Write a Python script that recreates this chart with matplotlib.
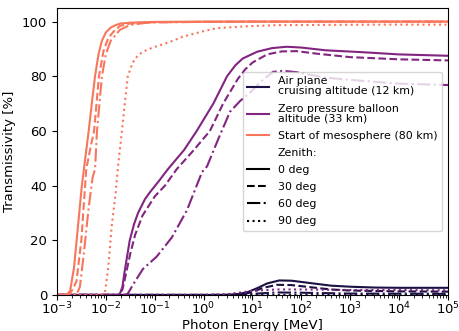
import numpy as np
import matplotlib
matplotlib.use("Agg")
import matplotlib.pyplot as plt
from matplotlib.lines import Line2D

# altitude labels and colours
altitudes = ["Air plane\ncruising altitude (12 km)",
             "Zero pressure balloon\naltitude (33 km)",
             "Start of mesosphere (80 km)"]
alt_colors = ["#1c1044", "#812581", "#f8765c"]

zeniths = ["0 deg", "30 deg", "60 deg", "90 deg"]
zen_styles = ["-", "--", "-.", ":"]

# --- 12 km (log10 energy in MeV, transmissivity in %) ---
e12_0 = [-3, 0.4, 0.7, 0.9, 1.1, 1.3, 1.55, 1.8, 2.2, 2.6, 3.0, 3.5, 4, 5]
t12_0 = [0, 0, 0.3, 1, 2.5, 4.2, 5.3, 5.2, 4.3, 3.4, 3.0, 2.7, 2.6, 2.6]
e12_30 = [-3, 0.5, 0.8, 1.0, 1.2, 1.5, 1.8, 2.2, 2.6, 3, 4, 5]
t12_30 = [0, 0, 0.3, 1, 2.5, 3.7, 3.6, 2.8, 2.0, 1.6, 1.3, 1.2]
e12_60 = [-3, 0.8, 1.1, 1.5, 2, 3, 5]
t12_60 = [0, 0, 0.5, 0.9, 0.8, 0.5, 0.4]
e12_90 = [-3, 5]
t12_90 = [0, 0]

# --- 33 km ---
e33_0 = [-3, -1.75, -1.71, -1.66, -1.62, -1.51, -1.42, -1.34, -1.2, -1.1, -0.9, -0.73,
         -0.4, -0.14, 0.2, 0.48, 0.65, 0.8, 1.1, 1.4, 1.7, 2.0, 2.5, 3.26, 4, 5]
t33_0 = [0, 0, 0.5, 3, 8, 20, 26, 30, 35, 37.5, 42, 46,
         53, 60, 70, 80, 84, 86.5, 89, 90.3, 90.8, 90.5, 89.5, 88.8, 88, 87.5]
e33_30 = [-3, -1.72, -1.66, -1.62, -1.5, -1.4, -1.25, -1.0, -0.79, -0.55, -0.2, 0.13,
          0.4, 0.7, 0.85, 1.0, 1.3, 1.6, 1.9, 2.3, 3.0, 4, 5]
t33_30 = [0, 0, 2, 5, 15, 22, 29, 36, 40, 46, 53, 60,
          70, 79, 82.5, 85, 88, 89.1, 89.2, 88.3, 87, 86.2, 85.8]
e33_60 = [-3, -1.6, -1.55, -1.4, -1.24, -0.96, -0.65, -0.34, -0.03, 0.07, 0.3,
          0.54, 0.75, 0.95, 1.2, 1.42, 1.62, 1.9, 2.5, 3.26, 4, 5]
t33_60 = [0, 0, 0.5, 5, 9.5, 14, 21, 31, 45, 47, 57,
          67, 71, 74, 78.5, 81.6, 82, 81.5, 79.5, 78.3, 77.3, 76.8]
e33_90 = [-3, 0.0, 0.5, 0.8, 1.0, 1.5, 2, 3, 4, 5]
t33_90 = [0, 0, 0.3, 1, 1.5, 2, 2, 1.8, 1.8, 1.7]

# --- 80 km ---
e80_0 = [-3, -2.8, -2.73, -2.65, -2.57, -2.49, -2.42, -2.35, -2.28, -2.22, -2.15,
         -2.08, -2.0, -1.9, -1.8, -1.7, -1.5, -1.2, -1, 0, 1, 2, 3, 4, 5]
t80_0 = [0, 0, 1.5, 10, 25, 40, 50, 60, 71, 80, 88,
         93, 96, 97.8, 98.7, 99.3, 99.6, 99.8, 99.9, 100, 100, 100, 100, 100, 100]
e80_30 = [-3, -2.75, -2.68, -2.6, -2.5, -2.4, -2.3, -2.24, -2.14, -2.05, -1.95,
          -1.81, -1.7, -1.5, -1.2, -1, 0, 1, 2, 3, 4, 5]
t80_30 = [0, 0, 2, 5, 20, 46, 55, 60, 80, 89, 94,
          97, 98.5, 99.3, 99.6, 99.8, 99.9, 100, 100, 100, 100, 100]
e80_60 = [-3, -2.6, -2.53, -2.45, -2.35, -2.27, -2.22, -2.18, -2.08, -2.0, -1.9,
          -1.71, -1.5, -1.2, -1, 0, 1, 2, 3, 4, 5]
t80_60 = [0, 0, 3, 15, 32, 43, 46, 60, 80, 88, 93,
          97, 98.8, 99.5, 99.7, 99.9, 100, 100, 100, 100, 100]
e80_90 = [-3, -2.1, -2.02, -1.95, -1.88, -1.8, -1.75, -1.67, -1.6, -1.55, -1.45,
          -1.35, -1.24, -1.04, -0.7, -0.42, 0, 0.27, 0.89, 1.5, 2.5, 3.5, 5]
t80_90 = [0, 0, 0.5, 10, 25, 37, 47, 60, 72, 80, 85,
          87.5, 89, 90.5, 92.5, 94.5, 96.5, 97.6, 98.3, 98.7, 98.8, 98.9, 98.9]

curves = [
    [(e12_0, t12_0), (e12_30, t12_30), (e12_60, t12_60), (e12_90, t12_90)],
    [(e33_0, t33_0), (e33_30, t33_30), (e33_60, t33_60), (e33_90, t33_90)],
    [(e80_0, t80_0), (e80_30, t80_30), (e80_60, t80_60), (e80_90, t80_90)],
]

fig = plt.figure(figsize=(4.59, 3.31), dpi=100)
ax = fig.add_axes([0.124, 0.109, 0.852, 0.867])

for i, alt_curves in enumerate(curves):
    for j, (le, t) in enumerate(alt_curves):
        ax.plot(10.0 ** np.array(le), t, color=alt_colors[i],
                linestyle=zen_styles[j], linewidth=1.5)

ax.set_xscale("log")
ax.set_xlim(1e-3, 1e5)
ax.set_ylim(0, 105)
ax.set_xticks([10.0 ** k for k in range(-3, 6)])
ax.tick_params(labelsize=9.5)
ax.tick_params(axis="x", pad=1)
ax.set_xlabel("Photon Energy [MeV]", fontsize=9.5, labelpad=1)
ax.set_ylabel("Transmissivity [%]", fontsize=9.5, labelpad=4)

handles = [Line2D([], [], color=c, lw=1.5) for c in alt_colors]
labels = list(altitudes)
handles.append(Line2D([], [], color="none"))
labels.append("Zenith:")
for ls, z in zip(zen_styles, zeniths):
    handles.append(Line2D([], [], color="black", linestyle=ls, lw=1.5))
    labels.append(z)
leg = ax.legend(handles, labels, loc="center right", fontsize=7.9,
                labelspacing=0.65, borderaxespad=0.55)
for txt in leg.get_texts():
    txt.set_linespacing(1.0)

fig.savefig("out.png", dpi=100)
